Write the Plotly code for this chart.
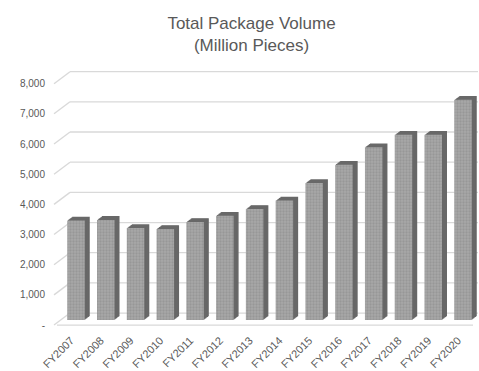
import plotly.graph_objects as go

# Fiscal years and total package volume (million pieces)
years = ["FY2007", "FY2008", "FY2009", "FY2010", "FY2011", "FY2012", "FY2013",
         "FY2014", "FY2015", "FY2016", "FY2017", "FY2018", "FY2019", "FY2020"]
volume = [3300, 3320, 3050, 3020, 3250, 3460, 3680,
          3960, 4540, 5150, 5730, 6140, 6140, 7300]

# Value axis ticks
tick_vals = [0, 1000, 2000, 3000, 4000, 5000, 6000, 7000, 8000]
tick_text = ["-", "1,000", "2,000", "3,000", "4,000", "5,000", "6,000", "7,000", "8,000"]

W, H = 479, 371
M_L, M_R, M_T, M_B = 54, 1, 60, 41
plot_w = W - M_L - M_R
plot_h = H - M_T - M_B

# Pixel scale of the axes
PX_PER_CAT = 29.77
PX_PER_VAL = 0.0304          # pixels per million pieces
ZERO_PX = 322 - M_T          # zero line of the bars, from top of plot area

x_lo = -(76 - M_L) / PX_PER_CAT
x_hi = x_lo + plot_w / PX_PER_CAT
y_lo = -(plot_h - ZERO_PX) / PX_PER_VAL
y_hi = ZERO_PX / PX_PER_VAL

BAR_W = 17.5 / PX_PER_CAT
FRONT = "#a0a0a0"
SIDE = "#686868"
FONT = "Liberation Sans, Arial, sans-serif"
TXT = "#595959"
GRID = "#d9d9d9"

fig = go.Figure()

# Extruded depth of each column: stacked darker copies shifted back and up
DEPTH_X, DEPTH_Y, STEPS = 5.0, 3.8, 6
for k in range(STEPS, 0, -1):
    dx = DEPTH_X * k / STEPS / PX_PER_CAT
    dy = DEPTH_Y * k / STEPS / PX_PER_VAL
    fig.add_trace(go.Bar(
        x=years, y=volume, base=dy, width=BAR_W, offset=-BAR_W / 2 + dx,
        marker=dict(color=SIDE, line=dict(width=0)),
        hoverinfo="skip", showlegend=False,
    ))

# Front faces
fig.add_trace(go.Bar(
    x=years, y=volume, width=BAR_W, offset=-BAR_W / 2,
    marker=dict(color=FRONT, line=dict(width=0),
                pattern=dict(shape=".", size=3, solidity=0.45,
                             fgcolor="#868686", bgcolor="#a8a8a8")),
    name="Total Package Volume", showlegend=False,
))

# Back-wall gridlines and their slanted links to the front edge
BACK_UP, FRONT_DOWN = 7, -5
wall_x = (70 - M_L) / plot_w
shapes = []
for v in tick_vals:
    shapes.append(dict(type="line", xref="paper", yref="y", ysizemode="pixel",
                       yanchor=v, x0=wall_x, x1=1, y0=BACK_UP, y1=BACK_UP,
                       line=dict(color=GRID, width=1.3), layer="below"))
    shapes.append(dict(type="line", xref="paper", yref="y", ysizemode="pixel",
                       yanchor=v, x0=0, x1=wall_x, y0=FRONT_DOWN, y1=BACK_UP,
                       line=dict(color=GRID, width=1.3), layer="below"))
# Front edge of the floor
shapes.append(dict(type="line", xref="paper", yref="y", ysizemode="pixel",
                   yanchor=0, x0=(57 - M_L) / plot_w, x1=(473 - M_L) / plot_w,
                   y0=FRONT_DOWN, y1=FRONT_DOWN,
                   line=dict(color=GRID, width=1.3), layer="below"))

fig.update_layout(
    width=W, height=H,
    margin=dict(l=M_L, r=M_R, t=M_T, b=M_B, pad=0),
    paper_bgcolor="white", plot_bgcolor="white",
    barmode="overlay",
    shapes=shapes,
    title=dict(text="Total Package Volume<br>(Million Pieces)",
               font=dict(family=FONT, size=17, color=TXT),
               xref="container", x=251.5 / W, xanchor="center",
               yref="container", y=1 - 29 / H, yanchor="middle"),
    font=dict(family=FONT, color=TXT),
    xaxis=dict(type="category", range=[x_lo, x_hi], showgrid=False,
               showline=False, zeroline=False, ticks="", tickangle=-45,
               tickfont=dict(size=11, color=TXT), ticklabelshift=-5,
               ticklabelstandoff=3, fixedrange=True),
    yaxis=dict(range=[y_lo, y_hi], showgrid=False, zeroline=False,
               showline=False, ticks="", tickvals=tick_vals,
               ticktext=tick_text, tickfont=dict(size=10, color=TXT),
               ticklabelshift=-FRONT_DOWN, ticklabelstandoff=8,
               fixedrange=True),
)

fig.write_html("out.html")
